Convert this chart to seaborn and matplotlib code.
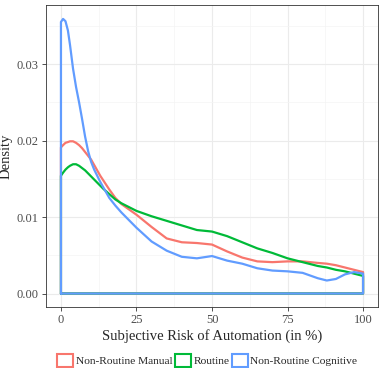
import pandas as pd
import matplotlib.pyplot as plt
import seaborn as sns
from matplotlib.patches import Patch
from matplotlib.ticker import MultipleLocator

# density curves (x in %, density)
risk = [0, 0.7, 1.5, 2.3, 3, 4, 5, 6, 7, 8, 9, 10, 11, 12, 13, 14, 16, 18, 20, 25,
        30, 35, 40, 45, 50, 55, 60, 65, 70, 75, 80, 85, 88, 91, 94, 97, 100]
manual = [0.0191, 0.0194, 0.0197, 0.0198, 0.0199, 0.0199, 0.0197, 0.0194, 0.0190,
          0.0185, 0.0180, 0.0175, 0.0168, 0.0161, 0.0154, 0.0148, 0.0136, 0.0125,
          0.0117, 0.0103, 0.0087, 0.0072, 0.0067, 0.0066, 0.0064, 0.0055, 0.0047,
          0.0042, 0.0041, 0.0042, 0.0042, 0.0040, 0.0039, 0.0037, 0.0034, 0.0031,
          0.0028]
routine = [0.0154, 0.0158, 0.0162, 0.0165, 0.0167, 0.0169, 0.0169, 0.0167, 0.0164,
           0.0161, 0.0157, 0.0153, 0.0149, 0.0145, 0.0141, 0.0137, 0.0130, 0.0123,
           0.0118, 0.0108, 0.0101, 0.0095, 0.0089, 0.0083, 0.0081, 0.0075, 0.0067,
           0.0059, 0.0053, 0.0046, 0.0041, 0.0036, 0.0034, 0.0031, 0.0029, 0.0026,
           0.0023]
cognitive = [0.0355, 0.0359, 0.0356, 0.0344, 0.0325, 0.0294, 0.0270, 0.0250, 0.0228,
             0.0205, 0.0186, 0.0172, 0.0162, 0.0154, 0.0146, 0.0139, 0.0125, 0.0115,
             0.0106, 0.0086, 0.0068, 0.0056, 0.0048, 0.0046, 0.0049, 0.0043, 0.0039,
             0.0033, 0.0030, 0.0029, 0.0027, 0.0020, 0.0017, 0.0019, 0.0025, 0.0028,
             0.0026]

groups = ["Non-Routine Manual", "Routine", "Non-Routine Cognitive"]
colors = ["#F8766D", "#00BA38", "#619CFF"]

# closed outline like geom_density: curve, then down to baseline and back
frames = []
for name, dens in zip(groups, [manual, routine, cognitive]):
    xs = [risk[0]] + risk + [risk[-1], risk[0]]
    ys = [0.0] + dens + [0.0, 0.0]
    frames.append(pd.DataFrame({"risk": xs, "density": ys, "group": name}))
df = pd.concat(frames, ignore_index=True)

sns.set_theme(style="white")
plt.rcParams["font.family"] = ["Liberation Serif", "DejaVu Serif"]

fig = plt.figure(figsize=(3.82, 3.68), dpi=100)
ax = fig.add_axes([0.120, 0.165, 0.870, 0.821])

sns.lineplot(data=df, x="risk", y="density", hue="group", hue_order=groups,
             palette=colors, sort=False, estimator=None, linewidth=1.6,
             legend=False, ax=ax)

ax.set_xlim(-5, 105)
ax.set_ylim(-0.0018, 0.0377)
ax.set_xticks([0, 25, 50, 75, 100])
ax.set_yticks([0.0, 0.01, 0.02, 0.03])
ax.set_yticklabels(["0.00", "0.01", "0.02", "0.03"])
ax.xaxis.set_minor_locator(MultipleLocator(12.5))
ax.yaxis.set_minor_locator(MultipleLocator(0.005))
ax.grid(which="major", color="#EBEBEB", linewidth=0.8)
ax.grid(which="minor", color="#F4F4F4", linewidth=0.5)
ax.set_axisbelow(True)
for s in ax.spines.values():
    s.set_color("#333333")
    s.set_linewidth(0.6)
ax.tick_params(which="major", length=3, width=0.6, color="#333333",
               labelsize=9, labelcolor="#4D4D4D", pad=2, left=True, bottom=True)
ax.tick_params(which="minor", length=0)
ax.set_xlabel("Subjective Risk of Automation (in %)", fontsize=10.5, labelpad=2)
ax.set_ylabel("Density", fontsize=10.5, labelpad=3)

handles = [Patch(facecolor="white", edgecolor=c, linewidth=1.5) for c in colors]
fig.legend(handles, groups, loc="lower left", bbox_to_anchor=(0.150, 0.004),
           ncol=3, frameon=False, fontsize=8.2, handlelength=1.4,
           handleheight=1.3, handletextpad=0.2, columnspacing=0.25,
           borderpad=0, borderaxespad=0)

fig.savefig("out.png", dpi=100)
